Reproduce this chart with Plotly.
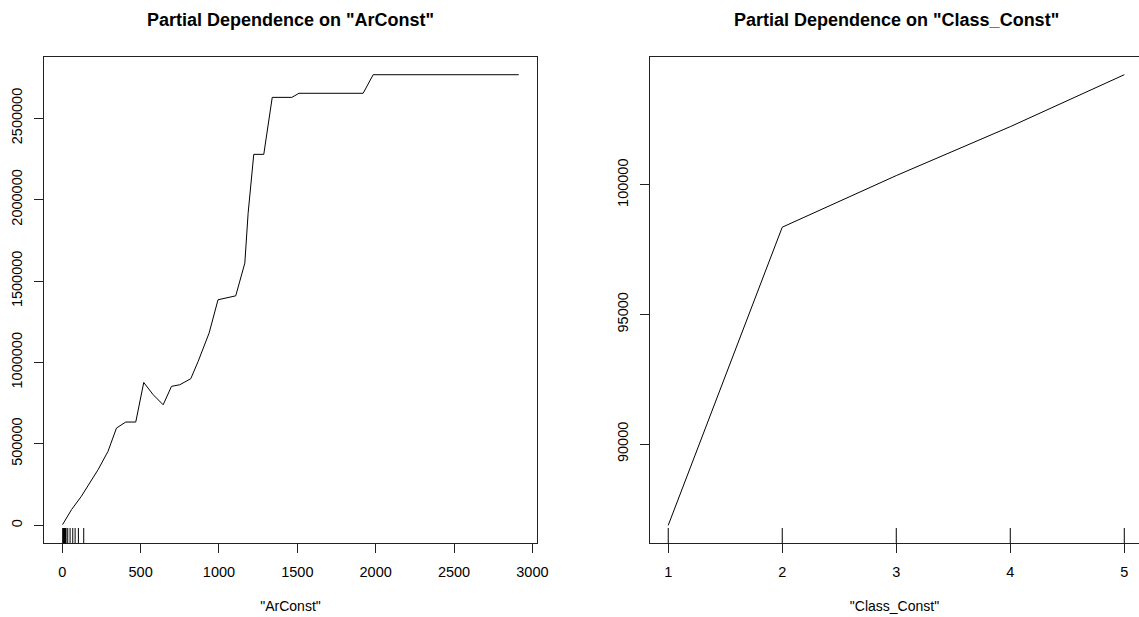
import plotly.graph_objects as go

# ---------------- data ----------------
ar_const_x = [2, 59, 122, 229, 292, 346, 405, 469, 520, 580, 644, 697, 750, 820, 867,
              937, 994, 1107, 1165, 1186, 1222, 1286, 1340, 1465, 1511, 1920, 1984, 2913]
ar_const_pd = [4000, 96000, 178000, 342000, 454000, 597000, 634000, 634000, 877000, 802000,
               740000, 853000, 863000, 900000, 1006000, 1180000, 1385000, 1409000, 1610000,
               1916000, 2278000, 2278000, 2628000, 2628000, 2653000, 2653000, 2767000, 2767000]
ar_const_rug = [3, 6, 9, 12, 15, 18, 21, 24, 35, 50, 67, 82, 103, 137]

class_const_x = [1, 2, 3, 4, 5]
class_const_pd = [86866, 98369, 100360, 102248, 104252]
class_const_rug = [1, 2, 3, 4, 5]

ar_ticks = [0, 500, 1000, 1500, 2000, 2500, 3000]
ar_yticks = [0, 500000, 1000000, 1500000, 2000000, 2500000]
cc_ticks = [1, 2, 3, 4, 5]
cc_yticks = [90000, 95000, 100000]

titles = ['Partial Dependence on "ArConst"', 'Partial Dependence on "Class_Const"']
xlabels = ['"ArConst"', '"Class_Const"']

# ---------------- layout geometry ----------------
W, H = 1139, 617
def fx(px):
    return px / W
def fy(py):
    return 1 - py / H

dom_y = [fy(543.3), fy(56.7)]
dom_x1 = [fx(44), fx(537)]
dom_x2 = [fx(650), 1.0]

FONT = "Liberation Sans, Arial, sans-serif"
tickfont = dict(family=FONT, size=14.5, color="#000000")

fig = go.Figure()
fig.add_trace(go.Scatter(x=ar_const_x, y=ar_const_pd, mode="lines",
                         line=dict(color="black", width=1), xaxis="x", yaxis="y",
                         showlegend=False, hoverinfo="x+y"))
fig.add_trace(go.Scatter(x=class_const_x, y=class_const_pd, mode="lines",
                         line=dict(color="black", width=1), xaxis="x2", yaxis="y2",
                         showlegend=False, hoverinfo="x+y"))

shapes = []
rug_frac = 15.3 / (543.3 - 56.7)
for v in ar_const_rug:
    shapes.append(dict(type="line", xref="x", yref="y domain", x0=v, x1=v, y0=0, y1=rug_frac,
                       line=dict(color="black", width=1)))
for v in class_const_rug:
    shapes.append(dict(type="line", xref="x2", yref="y2 domain", x0=v, x1=v, y0=0, y1=rug_frac,
                       line=dict(color="black", width=1)))

axis_common = dict(showgrid=False, zeroline=False, showline=True, linecolor="#222222",
                   linewidth=1, ticks="outside", ticklen=9, tickwidth=1, tickcolor="#222222",
                   tickfont=tickfont, ticklabelstandoff=6)

annotations = []
for dom, t in zip([dom_x1, [fx(650), fx(1142.5)]], titles):
    annotations.append(dict(text="<b>%s</b>" % t, xref="paper", yref="paper",
                            x=(dom[0] + dom[1]) / 2, y=fy(20), xanchor="center", yanchor="middle",
                            showarrow=False, font=dict(family=FONT, size=18, color="black")))

fig.update_layout(
    width=W, height=H,
    margin=dict(l=0, r=0, t=0, b=0, autoexpand=False),
    paper_bgcolor="white", plot_bgcolor="white",
    shapes=shapes, annotations=annotations,
    xaxis=dict(domain=dom_x1, range=[-116.5, 3029.5], tickvals=ar_ticks, anchor="y",
               mirror=True,
               title=dict(text=xlabels[0], font=dict(family=FONT, size=14, color="black"), standoff=22),
               **axis_common),
    yaxis=dict(domain=dom_y, range=[-110680, 2877680], tickvals=ar_yticks, anchor="x",
               mirror=True, tickangle=-90, tickformat="d", **axis_common),
    xaxis2=dict(domain=dom_x2, range=[0.84, 5.129], tickvals=cc_ticks, anchor="y2",
                mirror=True,
                title=dict(text=xlabels[1], font=dict(family=FONT, size=14, color="black"), standoff=22),
                **axis_common),
    yaxis2=dict(domain=dom_y, range=[86171, 104947], tickvals=cc_yticks, anchor="x2",
                mirror=False, tickangle=-90, tickformat="d", **axis_common),
)

fig.write_html("out.html", config={"displayModeBar": False},
               post_script="document.body.style.margin='0';document.body.style.overflow='hidden';")
